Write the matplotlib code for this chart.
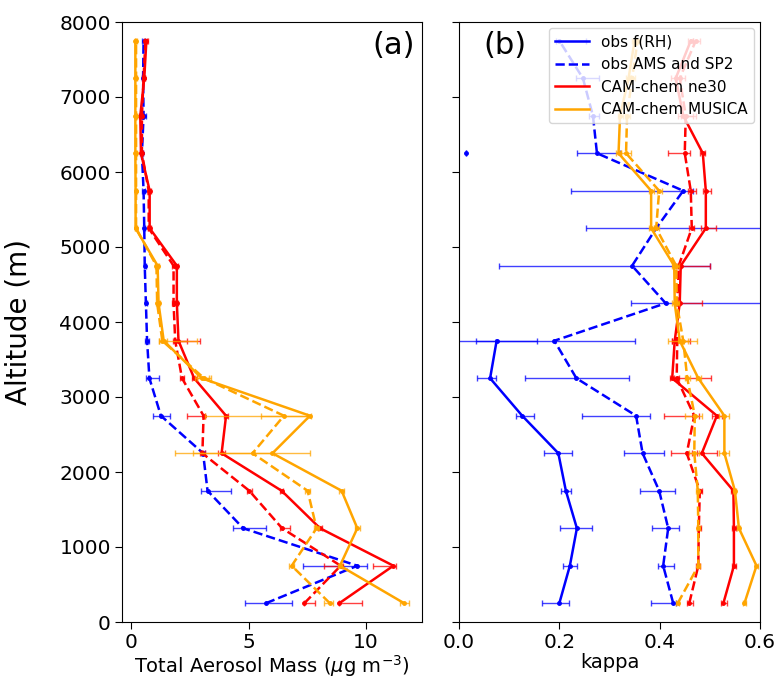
import numpy as np
import matplotlib
matplotlib.use("Agg")
import matplotlib.pyplot as plt
from matplotlib.lines import Line2D

nan = np.nan

# Altitude bin centres (m)
altitude = [250, 750, 1250, 1750, 2250, 2750, 3250, 3750,
            4250, 4750, 5250, 5750, 6250, 6750, 7250, 7750]

# ---- (a) total aerosol mass (ug m-3) ----
mass_obs = [5.74, 9.64, 4.77, 3.25, 3.06, 1.26, 0.77, 0.67,
            0.62, 0.57, 0.55, 0.52, 0.45, 0.52, 0.50, 0.52]
mass_obs_lo = [0.90, 2.30, 0.43, 0.26, 0.10, 0.34, 0.13, 0.10,
               0.05, 0.05, 0.05, 0.05, 0.05, 0.12, 0.05, 0.05]
mass_obs_hi = [1.10, 0.40, 0.97, 0.98, 0.10, 0.37, 0.39, 0.10,
               0.05, 0.05, 0.05, 0.05, 0.05, 0.12, 0.05, 0.05]

mass_ne30 = [8.87, 11.18, 8.05, 6.41, 3.85, 4.04, 2.68, 2.01,
             1.94, 1.94, 0.78, 0.78, 0.41, 0.38, 0.55, 0.64]
mass_ne30_lo = [0.02, 0.88, 0.10, 0.05, 0.15, 0.10, 0.10, 0.14,
                0.05, 0.05, 0.05, 0.05, 0.05, 0.05, 0.05, 0.05]
mass_ne30_hi = [0.98, 0.10, 0.10, 0.05, 0.15, 0.10, 0.10, 0.90,
                0.05, 0.05, 0.05, 0.05, 0.05, 0.05, 0.05, 0.05]

mass_ne30_b = [7.38, 8.93, 6.43, 5.03, 3.03, 3.08, 2.16, 1.87,
               1.80, 1.80, 0.74, 0.74, 0.45, 0.45, 0.52, 0.60]
mass_ne30_b_lo = [0.02, 0.70, 0.10, 0.10, 0.10, 0.72, 0.10, 0.10,
                  0.05, 0.05, 0.05, 0.05, 0.05, 0.05, 0.05, 0.05]
mass_ne30_b_hi = [0.46, 0.10, 0.35, 0.10, 0.10, 0.05, 0.10, 0.50,
                  0.05, 0.05, 0.05, 0.05, 0.05, 0.05, 0.05, 0.05]

mass_musica = [11.64, 8.90, 9.64, 8.97, 6.02, 7.62, 3.00, 1.38,
               1.16, 1.12, 0.18, 0.18, 0.17, 0.17, 0.17, 0.17]
mass_musica_lo = [0.20, 0.10, 0.10, 0.10, 4.17, 4.50, 0.30, 0.20,
                  0.05, 0.05, 0.03, 0.03, 0.03, 0.03, 0.03, 0.03]
mass_musica_hi = [0.20, 0.10, 0.10, 0.10, 0.05, 0.05, 0.30, 0.15,
                  0.05, 0.05, 0.03, 0.03, 0.03, 0.03, 0.03, 0.03]

mass_musica_b = [8.47, 6.84, 7.90, 7.52, 5.17, 6.51, 3.10, 1.32,
                 1.10, 1.07, 0.20, 0.20, 0.20, 0.20, 0.20, 0.20]
mass_musica_b_lo = [0.25, 0.10, 0.10, 0.10, 2.55, 1.00, 0.30, 0.15,
                    0.05, 0.05, 0.03, 0.03, 0.03, 0.03, 0.03, 0.03]
mass_musica_b_hi = [0.15, 0.10, 0.10, 0.10, 2.45, 1.00, 0.30, 1.50,
                    0.05, 0.05, 0.03, 0.03, 0.03, 0.03, 0.03, 0.03]

# ---- (b) hygroscopicity kappa ----
kap_frh = [0.200, 0.221, 0.235, 0.213, 0.198, 0.126, 0.062, 0.075,
           nan, nan, nan, nan, 0.013, nan, nan, nan]
kap_frh_lo = [0.034, 0.014, 0.034, 0.010, 0.028, 0.012, 0.026, 0.080,
              0, 0, 0, 0, 0, 0, 0, 0]
kap_frh_hi = [0.020, 0.014, 0.030, 0.010, 0.027, 0.024, 0.011, 0.080,
              0, 0, 0, 0, 0, 0, 0, 0]

kap_ams = [0.427, 0.407, 0.417, 0.399, 0.366, 0.353, 0.234, 0.190,
           0.412, 0.345, 0.393, 0.447, 0.275, 0.267, 0.247, 0.200]
kap_ams_lo = [0.044, 0.011, 0.032, 0.039, 0.037, 0.107, 0.102, 0.156,
              0.070, 0.265, 0.140, 0.224, 0.040, 0.007, 0.014, 0.007]
kap_ams_hi = [0.005, 0.021, 0.022, 0.031, 0.043, 0.027, 0.104, 0.160,
              0.250, 0.155, 0.250, 0.020, 0.045, 0.013, 0.033, 0.053]

kap_ne30 = [0.527, 0.548, 0.548, 0.547, 0.484, 0.514, 0.425, 0.430,
            0.440, 0.442, 0.492, 0.492, 0.486, 0.447, 0.432, 0.462]
kap_ne30_lo = [0.004, 0.004, 0.004, 0.004, 0.010, 0.010, 0.005, 0.005,
               0.005, 0.005, 0.010, 0.005, 0.005, 0.010, 0.010, 0.005]
kap_ne30_hi = [0.008, 0.004, 0.004, 0.004, 0.030, 0.010, 0.077, 0.030,
               0.045, 0.058, 0.020, 0.010, 0.005, 0.020, 0.010, 0.005]

kap_ne30_b = [0.459, 0.477, 0.478, 0.480, 0.454, 0.469, 0.434, 0.435,
              0.435, 0.438, 0.464, 0.462, 0.450, 0.452, 0.440, 0.472]
kap_ne30_b_lo = [0.005, 0.004, 0.004, 0.004, 0.032, 0.060, 0.005, 0.010,
                 0.005, 0.005, 0.005, 0.005, 0.033, 0.010, 0.010, 0.005]
kap_ne30_b_hi = [0.007, 0.004, 0.004, 0.004, 0.010, 0.010, 0.005, 0.010,
                 0.005, 0.005, 0.005, 0.010, 0.010, 0.020, 0.010, 0.008]

kap_musica = [0.569, 0.593, 0.558, 0.550, 0.529, 0.529, 0.477, 0.440,
              0.430, 0.429, 0.383, 0.383, 0.318, 0.321, 0.338, 0.350]
kap_musica_lo = [0.003, 0.003, 0.003, 0.003, 0.010, 0.010, 0.005, 0.024,
                 0.005, 0.005, 0.005, 0.005, 0.005, 0.005, 0.005, 0.005]
kap_musica_hi = [0.003, 0.003, 0.003, 0.003, 0.010, 0.010, 0.005, 0.034,
                 0.005, 0.005, 0.005, 0.005, 0.005, 0.005, 0.005, 0.005]

kap_musica_b = [0.436, 0.477, 0.477, 0.476, 0.469, 0.470, 0.455, 0.447,
                0.434, 0.433, 0.393, 0.399, 0.333, 0.335, 0.345, 0.356]
kap_musica_b_lo = [0.003, 0.003, 0.003, 0.003, 0.010, 0.020, 0.005, 0.010,
                   0.005, 0.005, 0.005, 0.005, 0.010, 0.005, 0.005, 0.005]
kap_musica_b_hi = [0.003, 0.003, 0.003, 0.003, 0.010, 0.015, 0.005, 0.010,
                   0.005, 0.005, 0.005, 0.005, 0.010, 0.005, 0.005, 0.005]

legend_labels = ["obs f(RH)", "obs AMS and SP2", "CAM-chem ne30", "CAM-chem MUSICA"]
legend_colors = ["blue", "blue", "red", "orange"]
legend_styles = ["-", "--", "-", "-"]

plt.rcParams["font.family"] = ["DejaVu Sans"]

fig = plt.figure(figsize=(7.77, 6.8), dpi=100)
ax_a = fig.add_axes([122 / 777, 58 / 680, 300 / 777, 600 / 680])
ax_b = fig.add_axes([459 / 777, 58 / 680, 301 / 777, 600 / 680], sharey=ax_a)


def profile(ax, x, lo, hi, color, ls):
    ax.errorbar(x, altitude, xerr=[lo, hi], fmt="none", ecolor=color,
                elinewidth=1.0, capsize=2.5, capthick=1.0, alpha=0.75)
    ax.plot(x, altitude, color=color, ls=ls, lw=1.8, marker=".", ms=5)


# panel (a)
profile(ax_a, mass_obs, mass_obs_lo, mass_obs_hi, "blue", "--")
profile(ax_a, mass_ne30, mass_ne30_lo, mass_ne30_hi, "red", "-")
profile(ax_a, mass_ne30_b, mass_ne30_b_lo, mass_ne30_b_hi, "red", "--")
profile(ax_a, mass_musica, mass_musica_lo, mass_musica_hi, "orange", "-")
profile(ax_a, mass_musica_b, mass_musica_b_lo, mass_musica_b_hi, "orange", "--")

# panel (b)
profile(ax_b, kap_frh, kap_frh_lo, kap_frh_hi, "blue", "-")
profile(ax_b, kap_ams, kap_ams_lo, kap_ams_hi, "blue", "--")
profile(ax_b, kap_ne30, kap_ne30_lo, kap_ne30_hi, "red", "-")
profile(ax_b, kap_ne30_b, kap_ne30_b_lo, kap_ne30_b_hi, "red", "--")
profile(ax_b, kap_musica, kap_musica_lo, kap_musica_hi, "orange", "-")
profile(ax_b, kap_musica_b, kap_musica_b_lo, kap_musica_b_hi, "orange", "--")

ax_a.set_ylim(0, 8000)
ax_a.set_xlim(-0.4, 12.4)
ax_a.set_xticks([0, 5, 10])
ax_a.set_yticks(range(0, 8001, 1000))
ax_b.set_xlim(0, 0.6)
ax_b.set_xticks([0.0, 0.2, 0.4, 0.6])
ax_b.tick_params(labelleft=False)

for ax in (ax_a, ax_b):
    ax.tick_params(labelsize=14.5, length=5, pad=3)

ax_a.set_xlabel(r"Total Aerosol Mass ($\mu$g m$^{-3}$)", fontsize=14, labelpad=1)
ax_b.set_xlabel("kappa", fontsize=14, labelpad=1)
ax_a.set_ylabel("Altitude (m)", fontsize=20)
ax_a.yaxis.set_label_coords(-0.30, 0.5)

ax_a.text(0.977, 0.985, "(a)", transform=ax_a.transAxes, ha="right", va="top",
          fontsize=22)
ax_b.text(0.08, 0.985, "(b)", transform=ax_b.transAxes, ha="left", va="top",
          fontsize=22)

handles = [Line2D([], [], color=c, ls=s, lw=1.8)
           for c, s in zip(legend_colors, legend_styles)]
ax_b.legend(handles, legend_labels, loc="upper right", fontsize=11,
            handlelength=2.2, borderaxespad=0.4)

fig.savefig("out.png", dpi=100)
